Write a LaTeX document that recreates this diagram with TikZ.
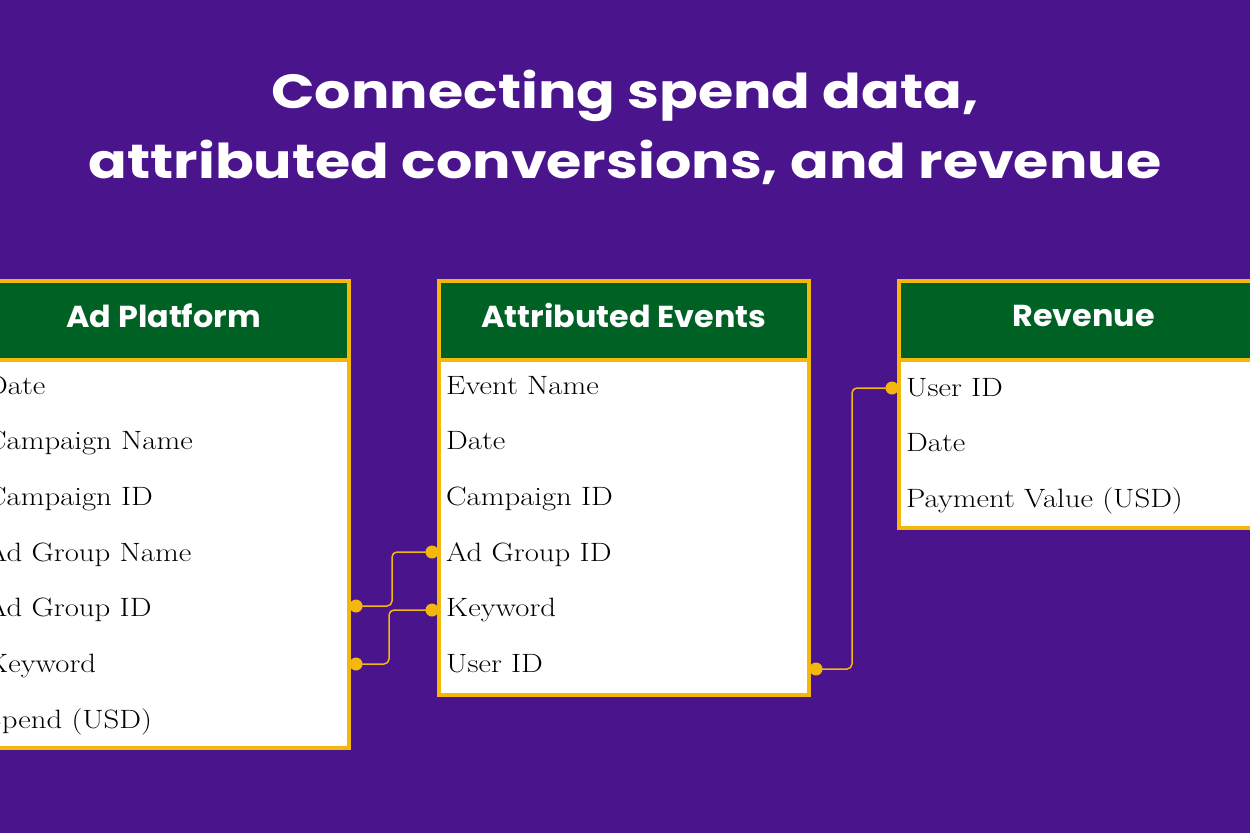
\documentclass[tikz,border=0pt]{standalone}
\usepackage{fontspec}
\newfontfamily\ttlfont[FakeStretch=1.19]{Poppins}
\newfontfamily\hdrfont[FakeStretch=1.05]{Poppins}
\newfontfamily\fldfont[FakeStretch=1.16]{Latin Modern Roman}
\usetikzlibrary{calc,positioning}

\definecolor{bgpurple}{RGB}{74,21,140}
\definecolor{hdrgreen}{RGB}{0,97,36}
\definecolor{edge}{RGB}{244,183,12}

\begin{document}
\begin{tikzpicture}[x=1pt,y=-1pt,
  tbl/.style={draw=edge,fill=white,line width=3.5pt,minimum width=370pt,anchor=north west,inner sep=0},
  hdr/.style={draw=edge,fill=hdrgreen,line width=3.5pt,minimum width=370pt,minimum height=79pt,
    anchor=north west,inner sep=0,text depth=9pt,text=white,font=\hdrfont\bfseries\fontsize{30.3}{34}\selectfont},
  fld/.style={anchor=base west,inner sep=0,font=\fldfont\fontsize{26.5}{30}\selectfont},
  pin/.style={circle,fill=edge,inner sep=0,minimum size=13pt},
  link/.style={draw=edge,line width=1.5pt,rounded corners=5pt}]
  \useasboundingbox (0,0) rectangle (1250,833);
  \clip (0,0) rectangle (1250,833);
  \fill[bgpurple] (0,0) rectangle (1250,833);
  % title
  \node[anchor=base,text=white,font=\ttlfont\bfseries\fontsize{48}{60}\selectfont] (ttl1) at (625,108) {Connecting spend data,};
  \node[anchor=base,text=white,font=\ttlfont\bfseries\fontsize{48}{60}\selectfont] (ttl2) at (625,178) {attributed conversions, and revenue};
  % tables
  \node[tbl,minimum height=467pt] (apbox) at (-23,279) {};
  \node[hdr] (aphdr) at (-23,279) {Ad Platform};
  \foreach \t [count=\i] in {Date,Campaign Name,Campaign ID,Ad Group Name,Ad Group ID,Keyword,Spend (USD)}
    \node[fld] (ap\i) at (-14,{394+55.7*(\i-1)}) {\t};
  \node[tbl,minimum height=414pt] (evbox) at (437,279) {};
  \node[hdr] (evhdr) at (437,279) {Attributed Events};
  \foreach \t [count=\i] in {Event Name,Date,Campaign ID,Ad Group ID,Keyword,User ID}
    \node[fld] (ev\i) at (446,{394+55.7*(\i-1)}) {\t};
  \node[tbl,minimum height=247pt] (rvbox) at (897,279) {};
  \node[hdr] (rvhdr) at (897,279) {Revenue};
  \foreach \t [count=\i] in {User ID,Date,Payment Value (USD)}
    \node[fld] (rv\i) at (906,{396+55.7*(\i-1)}) {\t};
  % keys
  \node[pin] (p1) at (356,606) {};
  \node[pin] (p2) at (432,552) {};
  \node[pin] (p3) at (356,664) {};
  \node[pin] (p4) at (432,610) {};
  \node[pin] (p5) at (816,669) {};
  \node[pin] (p6) at (892,388) {};
  \draw[link] (p1.center) -- ++(36,0) |- (p2.center);
  \draw[link] (p3.center) -- ++(33,0) |- (p4.center);
  \draw[link] (p5.center) -- ++(36,0) |- (p6.center);
\end{tikzpicture}
\end{document}
